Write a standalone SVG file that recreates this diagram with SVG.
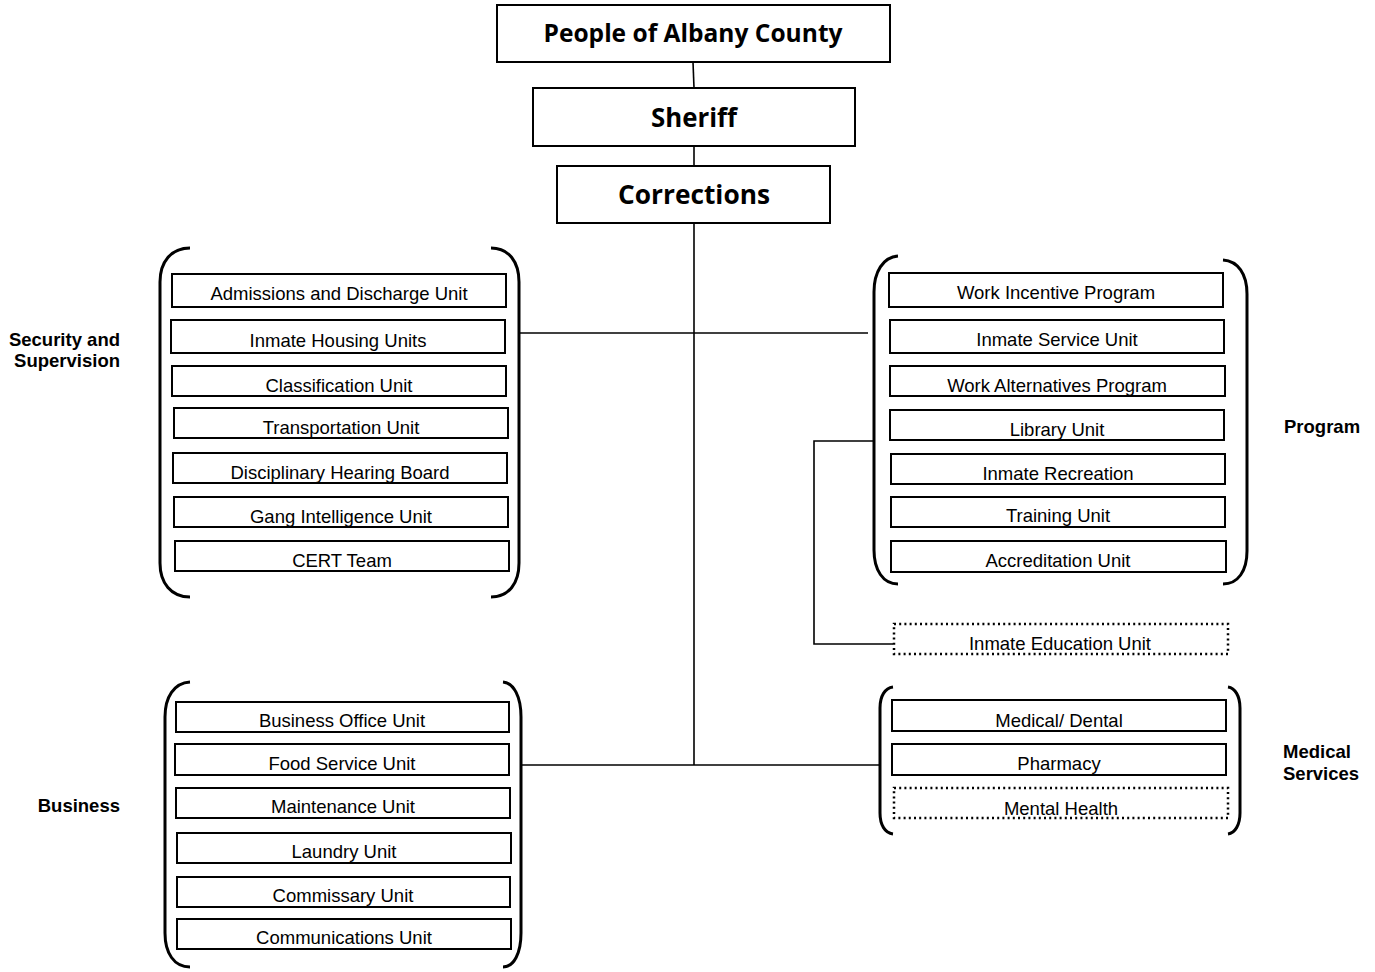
<svg xmlns="http://www.w3.org/2000/svg" width="1375" height="972" viewBox="0 0 1375 972">
<style>
.box{fill:#fff;stroke:#000;stroke-width:2}
.dot{fill:none;stroke:#000;stroke-width:2.5;stroke-dasharray:2 3.2}
.br{fill:none;stroke:#000;stroke-width:3}
.ln{fill:none;stroke:#000;stroke-width:1.6}
.t{font-family:"Liberation Sans",Arial,sans-serif;font-size:18.5px;text-anchor:middle;fill:#000}
.lb{font-family:"Liberation Sans",Arial,sans-serif;font-size:18.5px;font-weight:bold;fill:#000}
.h{font-family:"Open Sans","Noto Sans",sans-serif;font-weight:bold;text-anchor:middle;fill:#000}
</style>
<rect width="1375" height="972" fill="#fff"/>
<g id="connectors">
<path class="ln" d="M693 62 L694 88"/>
<path class="ln" d="M694 146 L694 166"/>
<path class="ln" d="M694 223 L694 765"/>
<path class="ln" d="M519 333 L868 333"/>
<path class="ln" d="M521 765 L880 765"/>
<path class="ln" d="M873 441 L814 441 L814 644 L893 644"/>
</g>
<g id="people"><rect class="box" x="497" y="5" width="393" height="57"/><text class="h" x="693" y="42" font-size="25.5" textLength="299" lengthAdjust="spacingAndGlyphs">People of Albany County</text></g>
<g id="sheriff"><rect class="box" x="533" y="88" width="322" height="58"/><text class="h" x="694" y="127" font-size="27" textLength="86" lengthAdjust="spacingAndGlyphs">Sheriff</text></g>
<g id="corrections"><rect class="box" x="557" y="166" width="273" height="57"/><text class="h" x="694" y="204" font-size="27.5" textLength="152" lengthAdjust="spacingAndGlyphs">Corrections</text></g>

<g id="security">
<path class="br" d="M190 248 C171 248 160 262 160 282 L160 563 C160 583 171 597 190 597"/>
<path class="br" d="M491 248 C509 248 519 262 519 282 L519 563 C519 583 509 597 491 597"/>
<text class="lb" x="120" y="346" text-anchor="end">Security and</text>
<text class="lb" x="120" y="367" text-anchor="end">Supervision</text>
</g>
<g id="admissions"><rect class="box" x="172" y="274" width="334" height="33"/><text class="t" x="339" y="300">Admissions and Discharge Unit</text></g>
<g id="housing"><rect class="box" x="171" y="320" width="334" height="33"/><text class="t" x="338" y="347">Inmate Housing Units</text></g>
<g id="classification"><rect class="box" x="172" y="366" width="334" height="30"/><text class="t" x="339" y="392">Classification Unit</text></g>
<g id="transportation"><rect class="box" x="174" y="408" width="334" height="30"/><text class="t" x="341" y="434">Transportation Unit</text></g>
<g id="disciplinary"><rect class="box" x="173" y="453" width="334" height="30"/><text class="t" x="340" y="479">Disciplinary Hearing Board</text></g>
<g id="gang"><rect class="box" x="174" y="497" width="334" height="30"/><text class="t" x="341" y="523">Gang Intelligence Unit</text></g>
<g id="cert"><rect class="box" x="175" y="541" width="334" height="30"/><text class="t" x="342" y="567">CERT Team</text></g>

<g id="program">
<path class="br" d="M898 256 C883 257 874 272 874 292 L874 550 C874 570 883 584 898 584"/>
<path class="br" d="M1223 260 C1238 261 1247 274 1247 294 L1247 551 C1247 571 1238 584 1223 584"/>
<text class="lb" x="1284" y="433">Program</text>
</g>
<g id="work-incentive"><rect class="box" x="889" y="273" width="334" height="34"/><text class="t" x="1056" y="299">Work Incentive Program</text></g>
<g id="inmate-service"><rect class="box" x="890" y="320" width="334" height="33"/><text class="t" x="1057" y="346">Inmate Service Unit</text></g>
<g id="work-alternatives"><rect class="box" x="890" y="366" width="335" height="30"/><text class="t" x="1057" y="392">Work Alternatives Program</text></g>
<g id="library"><rect class="box" x="890" y="410" width="334" height="30"/><text class="t" x="1057" y="436">Library Unit</text></g>
<g id="recreation"><rect class="box" x="891" y="454" width="334" height="30"/><text class="t" x="1058" y="480">Inmate Recreation</text></g>
<g id="training"><rect class="box" x="891" y="497" width="334" height="30"/><text class="t" x="1058" y="522">Training Unit</text></g>
<g id="accreditation"><rect class="box" x="891" y="541" width="335" height="31"/><text class="t" x="1058" y="567">Accreditation Unit</text></g>
<g id="education"><rect class="dot" x="894" y="624" width="334" height="30"/><text class="t" x="1060" y="650">Inmate Education Unit</text></g>

<g id="business">
<path class="br" d="M190 682 C174 683 165 697 165 717 L165 933 C165 953 174 967 190 967"/>
<path class="br" d="M503 682 C514 683 521 697 521 717 L521 933 C521 953 514 967 503 967"/>
<text class="lb" x="120" y="812" text-anchor="end">Business</text>
</g>
<g id="business-office"><rect class="box" x="176" y="702" width="333" height="30"/><text class="t" x="342" y="727">Business Office Unit</text></g>
<g id="food"><rect class="box" x="175" y="744" width="334" height="31"/><text class="t" x="342" y="770">Food Service Unit</text></g>
<g id="maintenance"><rect class="box" x="176" y="788" width="334" height="30"/><text class="t" x="343" y="813">Maintenance Unit</text></g>
<g id="laundry"><rect class="box" x="177" y="833" width="334" height="30"/><text class="t" x="344" y="858">Laundry Unit</text></g>
<g id="commissary"><rect class="box" x="177" y="877" width="333" height="30"/><text class="t" x="343" y="902">Commissary Unit</text></g>
<g id="communications"><rect class="box" x="177" y="919" width="334" height="30"/><text class="t" x="344" y="944">Communications Unit</text></g>

<g id="medical">
<path class="br" d="M893 687 C885 688 880 696 880 708 L880 813 C880 825 885 833 893 834"/>
<path class="br" d="M1228 687 C1235 688 1240 696 1240 708 L1240 813 C1240 825 1235 833 1228 834"/>
<text class="lb" x="1283" y="758">Medical</text>
<text class="lb" x="1283" y="780">Services</text>
</g>
<g id="medical-dental"><rect class="box" x="892" y="700" width="334" height="31"/><text class="t" x="1059" y="727">Medical/ Dental</text></g>
<g id="pharmacy"><rect class="box" x="892" y="744" width="334" height="31"/><text class="t" x="1059" y="770">Pharmacy</text></g>
<g id="mental-health"><rect class="dot" x="894" y="788" width="334" height="30"/><text class="t" x="1061" y="815">Mental Health</text></g>
</svg>
